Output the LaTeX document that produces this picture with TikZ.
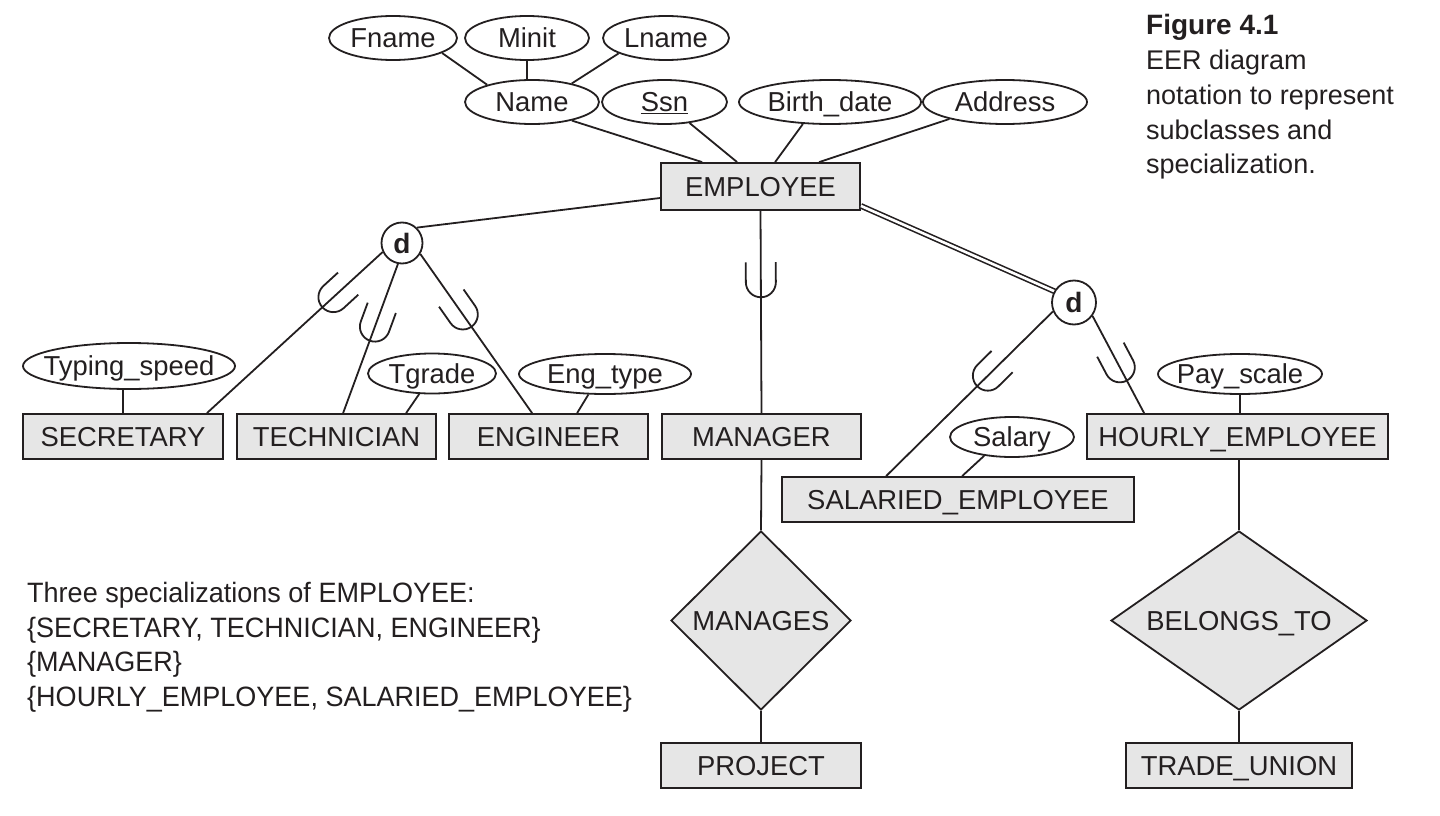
\documentclass[tikz,border=0pt]{standalone}
\usepackage{fontspec}
\setmainfont{Liberation Sans}
\newfontfamily\narrowfont[FakeStretch=0.965]{Liberation Sans}
\usetikzlibrary{shapes.geometric,decorations.markings,calc}
\definecolor{ink}{RGB}{35,31,32}
\definecolor{boxgray}{RGB}{230,230,230}
\newcommand\myfs{\fontsize{27.4}{32}\selectfont}
\newcommand\capfs{\fontsize{27}{32}\selectfont}
\newcommand\zb[1]{\makebox[0pt]{#1}}
\begin{document}
\begin{tikzpicture}[x=1pt,y=-1pt,
  every node/.style={text=ink},
  ent/.style={draw=ink, fill=boxgray, line width=1.8pt, inner sep=0pt,
    font=\myfs, text height=19.6pt, text depth=0pt},
  attr/.style={draw=ink, ellipse, line width=1.8pt, inner sep=0pt,
    font=\myfs, text height=19.6pt, text depth=0pt},
  dcirc/.style={draw=ink, circle, fill=white, line width=1.8pt, inner sep=0pt,
    font=\bfseries\fontsize{28}{32}\selectfont, text height=20pt, text depth=0pt},
  rel/.style={draw=ink, diamond, fill=boxgray, line width=1.8pt, inner sep=0pt,
    font=\myfs, text height=19.6pt, text depth=0pt},
  conn/.style={draw=ink, line width=1.8pt},
  subsetmark/.style={postaction={decorate}, decoration={markings,
    mark=at position #1 with {\draw[ink, line width=1.8pt] (-20pt,15pt) -- (0pt,15pt)
      arc[start angle=90, end angle=-90, radius=15pt] -- (-20pt,-15pt);}}},
  txt/.style={anchor=base west, inner sep=0pt, font=\capfs},
  blk/.style={anchor=base west, inner sep=0pt, font=\narrowfont\fontsize{28}{32}\selectfont}
]
\useasboundingbox (0,0) rectangle (1440,816);

% entities
\node[ent, minimum width=199pt, minimum height=47pt] (emp) at (760.5,186.5) {EMPLOYEE};
\node[ent, minimum width=200pt, minimum height=45pt] (sec) at (123,436.5) {SECRETARY};
\node[ent, minimum width=199pt, minimum height=45pt] (tech) at (336.5,436.5) {TECHNICIAN};
\node[ent, minimum width=199pt, minimum height=45pt] (eng) at (548.5,436.5) {ENGINEER};
\node[ent, minimum width=199pt, minimum height=45pt] (mgr) at (761.5,436.5) {MANAGER};
\node[ent, minimum width=352pt, minimum height=45pt] (sal) at (958,499.5) {SALARIED\_EMPLOYEE};
\node[ent, minimum width=301pt, minimum height=45pt] (hourly) at (1237.5,436.5) {HOURLY\_EMPLOYEE};
\node[ent, minimum width=200pt, minimum height=45pt] (proj) at (761,765.5) {PROJECT};
\node[ent, minimum width=226pt, minimum height=45pt] (trade) at (1239,765.5) {TRADE\_UNION};

% attributes
\node[attr, minimum width=128pt, minimum height=44pt] (fname) at (393,38) {\zb{Fname}};
\node[attr, minimum width=124pt, minimum height=44pt] (minit) at (527,38) {\zb{Minit}};
\node[attr, minimum width=126pt, minimum height=44pt] (lname) at (666,38) {\zb{Lname}};
\node[attr, minimum width=134pt, minimum height=44pt] (name) at (532,102) {\zb{Name}};
\node[attr, minimum width=125pt, minimum height=44pt] (ssn) at (664.5,102) {\zb{\underline{Ssn}}};
\node[attr, minimum width=182pt, minimum height=44pt] (bdate) at (830,102) {\zb{Birth\_date}};
\node[attr, minimum width=164pt, minimum height=44pt] (addr) at (1005,102) {\zb{Address}};
\node[attr, minimum width=212pt, minimum height=46pt] (typ) at (129,366) {\zb{Typing\_speed}};
\node[attr, minimum width=128pt, minimum height=40pt] (tgrade) at (432,373.5) {\zb{Tgrade}};
\node[attr, minimum width=172pt, minimum height=40pt] (engt) at (605,374) {\zb{Eng\_type}};
\node[attr, minimum width=124pt, minimum height=40pt] (salary) at (1012,437) {\zb{Salary}};
\node[attr, minimum width=164pt, minimum height=40pt] (pay) at (1240,374) {\zb{Pay\_scale}};

% relationships
\node[rel, minimum width=180pt, minimum height=179pt] (manages) at (761,620.5) {MANAGES};
\node[rel, shape aspect=1.42, minimum width=256pt, minimum height=179pt] (belongs) at (1239,620.5) {BELONGS\_TO};

% attribute connectors
\draw[conn] (fname.-17.6) -- (name.159.4);
\draw[conn] (minit.south) -- (minit.south |- name.north);
\draw[conn] (lname.198.8) -- (name.25.3);
\draw[conn] (name.-25.3) -- ([xshift=42pt]emp.north west);
\draw[conn] (ssn.-40.4) -- ([xshift=77pt]emp.north west);
\draw[conn] (bdate.219.8) -- ([xshift=115pt]emp.north west);
\draw[conn] (addr.197.2) -- ([xshift=159pt]emp.north west);
\draw[conn] (sec.north) -- (sec.north |- typ.south);
\draw[conn] (tgrade.238) -- ([xshift=170pt]tech.north west);
\draw[conn] (engt.231) -- ([xshift=129pt]eng.north west);
\draw[conn] (salary.214) -- ([xshift=181pt]sal.north west);
\draw[conn] (pay.south) -- (pay.south |- hourly.north);

% specialization circles
\draw[conn, double=white, double distance=2.6pt, line width=1.6pt]
  ([yshift=5pt]emp.south east) -- ($(1074,302.5)+(150:22pt)$) coordinate (d2in);
\node[dcirc, minimum size=41pt] (d1) at (402,243) {d};
\node[dcirc, minimum size=44pt] (d2) at (1074,302.5) {d};

\draw[conn] ([yshift=-11.5pt]emp.west) -- (d1.46);
\draw[conn, subsetmark=0.28] (d1.205) -- ([xshift=-17pt]sec.north east);
\draw[conn, subsetmark=0.42] (d1.259) -- ([xshift=107pt]tech.north west);
\draw[conn, subsetmark=0.38] (d1.329) -- ([xshift=84pt]eng.north west);
\draw[conn, subsetmark=0.353] (emp.south) -- (mgr.north);
\draw[conn, subsetmark=0.39] (d2.203) -- ([xshift=105pt]sal.north west);
\draw[conn, subsetmark=0.53] (d2.324) -- ([xshift=58pt]hourly.north west);

% relationship connectors
\draw[conn] (mgr.south) -- (manages.north);
\draw[conn] (manages.south) -- (proj.north);
\draw[conn] (belongs.north) -- (belongs.north |- hourly.south);
\draw[conn] (belongs.south) -- (trade.north);

% text block
\node[blk] (t1) at (27,602.5) {Three specializations of EMPLOYEE:};
\node[blk] (t2) at (27,637) {\{SECRETARY, TECHNICIAN, ENGINEER\}};
\node[blk] (t3) at (27,671.5) {\{MANAGER\}};
\node[blk] (t4) at (27,706) {\{HOURLY\_EMPLOYEE, SALARIED\_EMPLOYEE\}};

% caption
\node[txt, font=\bfseries\fontsize{28}{32}\selectfont] (c0) at (1146,35) {Figure 4.1};
\node[txt] (c1) at (1146,70) {EER diagram};
\node[txt] (c2) at (1146,104.5) {notation to represent};
\node[txt] (c3) at (1146,139) {subclasses and};
\node[txt] (c4) at (1146,173.5) {specialization.};
\end{tikzpicture}
\end{document}
